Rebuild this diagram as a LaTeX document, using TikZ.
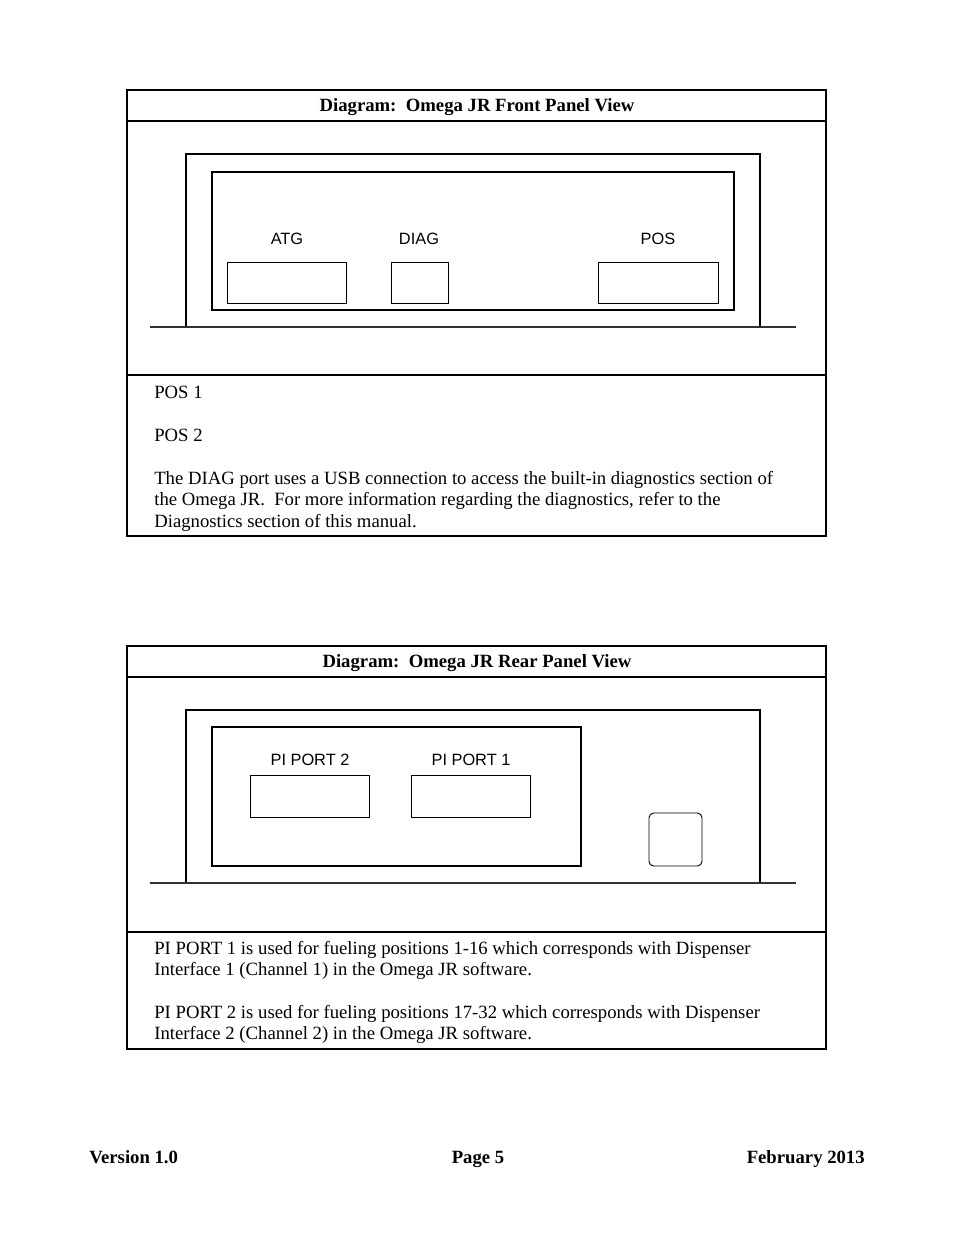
\documentclass[tikz,border=0pt]{standalone}
\usepackage{fontspec}
\setmainfont{Liberation Serif}
\newfontfamily\portfont{Liberation Sans}
\usepackage{tikz}
\usetikzlibrary{positioning}

\tikzset{
  framebox/.style={line width=1.1pt},
  baseline line/.style={line width=1.4pt, color={rgb,255:red,50;green,50;blue,50}},
  panelbox/.style={line width=0.7pt},
  portbox/.style={line width=0.6pt},
  portlabel/.style={inner sep=0pt, anchor=base, font=\portfont\fontsize{10.5}{12}\selectfont},
  bodytext/.style={inner sep=0pt, anchor=base west, font=\fontsize{12}{14}\selectfont},
  titletext/.style={inner sep=0pt, anchor=base, font=\bfseries\fontsize{12}{14}\selectfont},
}

\begin{document}
\begin{tikzpicture}[x=0.6415pt,y=0.6415pt,yscale=-1,xscale=1]
\useasboundingbox (0,0) rectangle (954,1235);
\fill[white] (0,0) rectangle (954,1235);

%Front panel frame
\draw [framebox] (127,90) rectangle (826,536) ;
\draw [framebox] (127,121) -- (826,121) ;
\draw [framebox] (127,375) -- (826,375) ;
% Text Node
\node [titletext] (fronttitle) at (477,111) {Diagram:\ \ Omega JR Front Panel View};

%Shape: Front housing
\draw [panelbox] (186,327) -- (186,154) -- (760,154) -- (760,327) ;
\draw [baseline line] (150,327) -- (796,327) ;
%Shape: Rectangle
\draw [panelbox] (212,172) rectangle (734,310) ;
%Shape: Rectangle
\draw [portbox] (227,262) rectangle (346,303) ;
\draw [portbox] (391,262) rectangle (448,303) ;
\draw [portbox] (598,262) rectangle (718,303) ;
% Text Node
\node [portlabel] (atg) at (287,244) {ATG};
% Text Node
\node [portlabel] (diag) at (419,244) {DIAG};
% Text Node
\node [portlabel] (pos) at (658,244) {POS};

% Text Node
\node [bodytext] (posone) at (154,398) {POS 1};
% Text Node
\node [bodytext] (postwo) at (154,441) {POS 2};
% Text Node
\node [bodytext] (diagone) at (154,484) {The DIAG port uses a USB connection to access the built-in diagnostics section of};
\node [bodytext] (diagtwo) at (154,505) {the Omega JR.\ \ For more information regarding the diagnostics, refer to the};
\node [bodytext] (diagthree) at (154,527) {Diagnostics section of this manual.};

%Rear panel frame
\draw [framebox] (127,646) rectangle (826,1049) ;
\draw [framebox] (127,677) -- (826,677) ;
\draw [framebox] (127,932) -- (826,932) ;
% Text Node
\node [titletext] (reartitle) at (477,667) {Diagram:\ \ Omega JR Rear Panel View};

%Shape: Rear housing
\draw [panelbox] (186,883) -- (186,710) -- (760,710) -- (760,883) ;
\draw [baseline line] (150,883) -- (796,883) ;
%Shape: Rectangle
\draw [panelbox] (212,727) rectangle (581,866) ;
%Shape: Rectangle
\draw [portbox] (250,775) rectangle (369,817) ;
\draw [portbox] (411,775) rectangle (530,817) ;
%Shape: Rounded square
\draw [portbox, rounded corners=3pt] (649,813) rectangle (702,866) ;
% Text Node
\node [portlabel] (piporttwo) at (310,765) {PI PORT 2};
% Text Node
\node [portlabel] (piportone) at (471,765) {PI PORT 1};

% Text Node
\node [bodytext] (pione) at (154,954) {PI PORT 1 is used for fueling positions 1-16 which corresponds with Dispenser};
\node [bodytext] (pitwo) at (154,975) {Interface 1 (Channel 1) in the Omega JR software.};
% Text Node
\node [bodytext] (pithree) at (154,1018) {PI PORT 2 is used for fueling positions 17-32 which corresponds with Dispenser};
\node [bodytext] (pifour) at (154,1039) {Interface 2 (Channel 2) in the Omega JR software.};

% Footer
\node [titletext, anchor=base west] (version) at (89,1163) {Version 1.0};
\node [titletext] (page) at (478,1163) {Page 5};
\node [titletext, anchor=base east] (date) at (865,1163) {February 2013};

\end{tikzpicture}
\end{document}
